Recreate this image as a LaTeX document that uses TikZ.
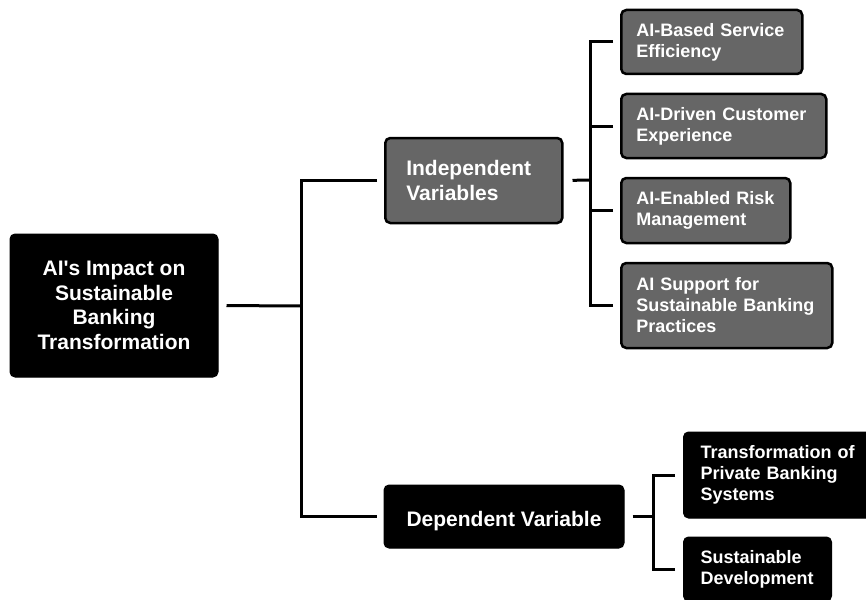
\documentclass[tikz,border=0pt]{standalone}
\usepackage{fontspec}
\setmainfont{Liberation Sans}
\definecolor{boxgray}{RGB}{102,102,102}
\begin{document}
\begin{tikzpicture}[x=1pt,y=-1pt,
  box/.style={rounded corners=5pt, text=white, inner ysep=0pt},
  blackbox/.style={box, fill=black, draw=black, line width=1pt},
  graybox/.style={box, fill=boxgray, draw=black, line width=2.5pt},
  mainfont/.style={font=\bfseries\fontsize{21}{24.5}\selectfont},
  leaffont/.style={font=\bfseries\fontsize{18}{21}\selectfont},
  leaf/.style={graybox, leaffont, align=left, anchor=west, inner xsep=15pt},
  dleaf/.style={blackbox, leaffont, align=left, anchor=west, inner xsep=17pt},
  conn/.style={line width=3pt, draw=black, line join=miter}
]
\useasboundingbox (0,0) rectangle (866,599);

% main nodes
\node[blackbox, mainfont, align=center, minimum width=208pt, minimum height=143pt] (root) at (114,305.5)
  {AI\textquotesingle s Impact on\\Sustainable\\Banking\\Transformation};
\node[graybox, mainfont, align=left, anchor=west, inner xsep=21pt, text width=135pt, minimum height=85pt] (indep) at (384,180.5)
  {Independent\\Variables};
\node[blackbox, mainfont, align=center, minimum width=240pt, minimum height=63pt, text height=19pt, text depth=0pt] (dep) at (504,516.5)
  {Dependent Variable};

% independent leaves
\node[leaf, text width=151pt, minimum height=64pt] (l1) at (620,42) {AI-Based Service\\Efficiency};
\node[leaf, text width=175pt, minimum height=64pt] (l2) at (620,126) {AI-Driven Customer\\Experience};
\node[leaf, text width=139pt, minimum height=65pt] (l3) at (620,210.5) {AI-Enabled Risk\\Management};
\node[leaf, text width=181pt, minimum height=85pt] (l4) at (620,305.5) {AI Support for\\Sustainable Banking\\Practices};

% dependent leaves
\node[dleaf, text width=170pt, minimum height=86pt] (d1) at (683,475) {Transformation of\\Private Banking\\Systems};
\node[dleaf, text width=114pt, minimum height=64pt] (d2) at (683,569) {Sustainable\\Development};

% junctions
\coordinate (j1) at (301,306);
\coordinate (j2) at (590,180);
\coordinate (j3) at (653,516.5);

% connectors
\draw[conn, shorten <=8pt] (root.east) -- (j1);
\draw[conn, shorten <=7pt] (indep.west) -| (j1);
\draw[conn, shorten <=7pt] (dep.west) -| (j1);

\draw[conn, shorten <=9pt] (indep.east) -- (j2);
\foreach \n in {l1,l2,l3,l4}{
  \draw[conn, shorten <=7pt] (\n.west) -| (j2);
}

\draw[conn, shorten <=8pt] (dep.east) -- (j3);
\draw[conn, shorten <=8pt] (d1.west) -| (j3);
\draw[conn, shorten <=8pt] (d2.west) -| (j3);
\end{tikzpicture}
\end{document}
